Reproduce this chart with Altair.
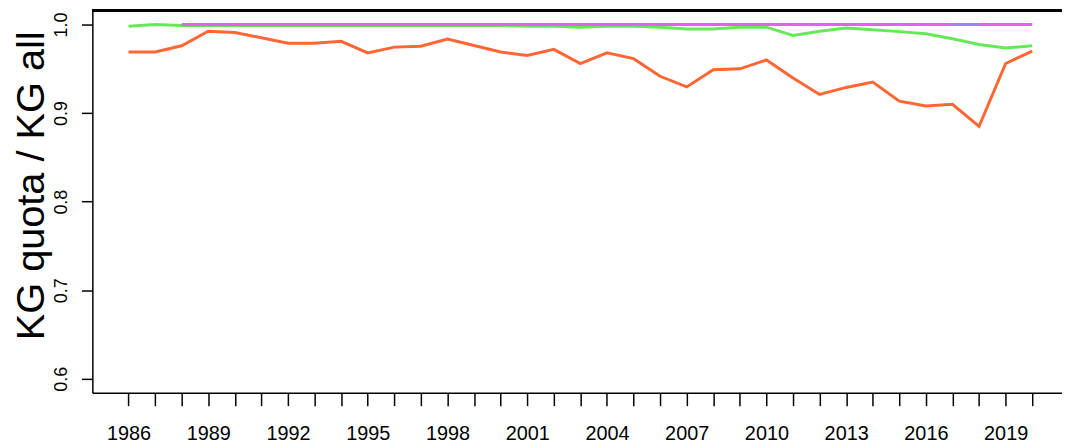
import altair as alt
import pandas as pd

years = list(range(1986, 2021))

orange = [0.969, 0.969, 0.976, 0.9925, 0.991, 0.985, 0.979, 0.979, 0.981, 0.968,
          0.9745, 0.9756, 0.9835, 0.9764, 0.969, 0.965, 0.972, 0.956, 0.968, 0.9615,
          0.9416, 0.9296, 0.949, 0.950, 0.960, 0.9397, 0.921, 0.929, 0.935, 0.9135,
          0.908, 0.910, 0.885, 0.956, 0.970]

green = [0.998, 1.000, 0.999, 0.999, 0.999, 0.999, 0.999, 0.999, 0.999, 0.999,
         0.999, 0.999, 0.999, 0.999, 0.999, 0.998, 0.998, 0.997, 0.998, 0.998,
         0.997, 0.995, 0.995, 0.997, 0.997, 0.9876, 0.9925, 0.996, 0.994, 0.992,
         0.9895, 0.984, 0.9775, 0.9734, 0.976]

violet_years = list(range(1988, 2021))
violet = [1.0] * len(violet_years)

blue_years = [2017, 2018]
blue = [1.0, 1.0]

series_names = ["orange", "green", "violet", "blue"]
series_colors = ["#FF6633", "#66E85A", "#E062EE", "#9A86F0"]

rows = []
for yr, v in zip(years, orange):
    rows.append({"year": yr, "value": v, "series": "orange"})
for yr, v in zip(years, green):
    rows.append({"year": yr, "value": v, "series": "green"})
for yr, v in zip(violet_years, violet):
    rows.append({"year": yr, "value": v, "series": "violet"})
for yr, v in zip(blue_years, blue):
    rows.append({"year": yr, "value": v, "series": "blue"})
df = pd.DataFrame(rows)

PLOT_W = 977
PLOT_H = 386

x_scale = alt.Scale(domain=[1984.64, 2021.12], nice=False, zero=False)
y_scale = alt.Scale(domain=[0.5843, 1.0168], nice=False, zero=False)
color_scale = alt.Scale(domain=series_names, range=series_colors)

x_axis = alt.Axis(
    orient="bottom",
    values=years, format="d", title=None, grid=False,
    labelExpr="(datum.value - 1986) % 3 == 0 ? datum.label : ''",
    tickSize=13, tickWidth=1.5, tickColor="black",
    domainColor="black", domainWidth=1.5,
    labelFont="Liberation Sans", labelFontSize=20, labelColor="black",
    labelBaseline="alphabetic", labelPadding=34,
    labelFlush=False, labelOverlap=False,
)
y_axis = alt.Axis(
    values=[0.6, 0.7, 0.8, 0.9, 1.0], format=".1f", grid=False,
    title="KG quota / KG all", titleFont="Liberation Sans", titleFontSize=40,
    titleFontWeight="normal", titleColor="black", titleAngle=270,
    titleX=-49, titleY=177, titleBaseline="alphabetic", titleAlign="center",
    tickSize=11, tickWidth=1.5, tickColor="black",
    domainColor="black", domainWidth=1.5,
    labelFont="Liberation Sans", labelFontSize=18, labelColor="black",
    labelAngle=270, labelAlign="center", labelBaseline="alphabetic",
    labelPadding=15, labelFlush=False, labelOverlap=False,
)

lines = []
for name in series_names:
    sub = df[df["series"] == name]
    lines.append(
        alt.Chart(sub).mark_line(strokeWidth=3).encode(
            x=alt.X("year:Q", scale=x_scale, axis=x_axis),
            y=alt.Y("value:Q", scale=y_scale, axis=y_axis),
            color=alt.Color("series:N", scale=color_scale, legend=None),
        )
    )

# top border of the plot frame (R box; right edge lies outside the picture)
top_frame = alt.Chart(df).mark_rule(color="black", strokeWidth=2).encode(
    x=alt.value(0), x2=alt.value(PLOT_W), y=alt.value(1)
)

chart = alt.layer(*lines, top_frame).properties(
    width=PLOT_W, height=PLOT_H,
    autosize=alt.AutoSizeParams(type="none"),
    padding={"left": 85, "top": 0, "right": 0, "bottom": 54},
    background="white",
).configure_view(stroke=None)

chart.save("out.html", embed_options={"renderer": "svg", "actions": False})
